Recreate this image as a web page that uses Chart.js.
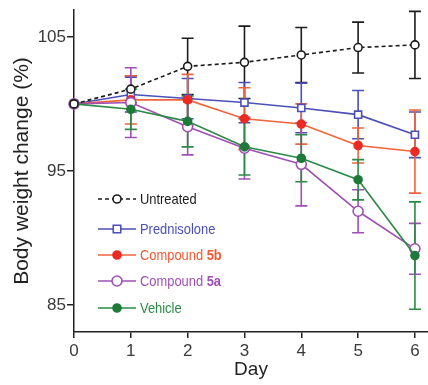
<!DOCTYPE html>
<html>
<head>
<meta charset="utf-8">
<script src="https://cdn.jsdelivr.net/npm/chart.js@4"></script>
<style>
  html, body { margin: 0; padding: 0; background: #fff; }
  #wrap { width: 428px; height: 385px; }
</style>
</head>
<body>
<div id="wrap"><canvas id="myChart" width="428" height="385"></canvas></div>
<script>
// values (mean and error, % body weight)
const days = [0, 1, 2, 3, 4, 5, 6];
const xTicks = [0, 1, 2, 3, 4, 5, 6];
const yTicks = [85, 95, 105];

const seriesNames = ['Untreated', 'Prednisolone', 'Compound 5b', 'Compound 5a', 'Vehicle'];

const untreated = [100, 101.1, 102.8, 103.1, 103.65, 104.2, 104.4];
const untreatedErr = [0, 1.0, 2.1, 2.7, 2.05, 1.9, 2.5];
const prednisolone = [100, 100.7, 100.4, 100.1, 99.7, 99.2, 97.7];
const prednisoloneErr = [0, 1.3, 1.5, 1.5, 1.85, 1.8, 1.7];
const compound5b = [100, 100.3, 100.3, 98.9, 98.5, 96.9, 96.45];
const compound5bErr = [0, 1.8, 1.9, 2.3, 1.5, 1.3, 3.1];
const compound5a = [100, 100.1, 98.3, 96.7, 95.5, 92.0, 89.2];
const compound5aErr = [0, 2.6, 2.1, 2.3, 3.1, 1.6, 1.9];
const vehicle = [100, 99.6, 98.7, 96.8, 95.95, 94.35, 88.7];
const vehicleErr = [0, 1.5, 1.9, 2.1, 1.75, 1.5, 4.0];

const toPoints = (vals) => days.map((d, i) => ({ x: d, y: vals[i] }));

const font = '"Liberation Sans", Arial, Helvetica, sans-serif';
Chart.defaults.font.family = font;
Chart.defaults.color = '#3a3a3a';

const styles = [
  { line: '#1c1c1c', point: '#1c1c1c', fill: '#fff', shape: 'circle', r: 4, dash: [4, 3], text: '#1c1c1c' },
  { line: '#4b4fb8', point: '#4b4fb8', fill: '#fff', shape: 'rect', r: 5, dash: [], text: '#4b4fb8' },
  { line: '#f0643c', point: '#ec2a24', fill: '#ec2a24', shape: 'circle', r: 4, dash: [], text: '#f05a30' },
  { line: '#a050b4', point: '#a050b4', fill: '#fff', shape: 'circle', r: 5, dash: [], text: '#a050b4' },
  { line: '#2b8a45', point: '#1f7a3a', fill: '#1f7a3a', shape: 'circle', r: 4, dash: [], text: '#2b8a45' }
];
const values = [untreated, prednisolone, compound5b, compound5a, vehicle];
const errors = [untreatedErr, prednisoloneErr, compound5bErr, compound5aErr, vehicleErr];

const datasets = seriesNames.map((name, k) => ({
  label: name,
  data: toPoints(values[k]),
  errors: errors[k],
  borderColor: styles[k].line,
  borderWidth: 1.6,
  borderDash: styles[k].dash,
  pointStyle: styles[k].shape,
  pointRadius: styles[k].r,
  pointBorderColor: styles[k].point,
  pointBackgroundColor: styles[k].fill,
  pointBorderWidth: 1.6,
  tension: 0,
  clip: false,
  order: k === 0 ? 0 : 5 - k
}));

// vertical error bars with caps
const errorBars = {
  id: 'errorBars',
  beforeDatasetsDraw(chart) {
    const { ctx, scales: { x, y } } = chart;
    ctx.save();
    chart.data.datasets.forEach((ds, k) => {
      ctx.strokeStyle = styles[k].line;
      ctx.lineWidth = 1.6;
      ctx.setLineDash([]);
      ds.data.forEach((p, i) => {
        const e = ds.errors[i];
        if (!e) return;
        const px = x.getPixelForValue(p.x);
        const top = y.getPixelForValue(p.y + e);
        const bot = y.getPixelForValue(p.y - e);
        ctx.beginPath();
        ctx.moveTo(px, top); ctx.lineTo(px, bot);
        ctx.moveTo(px - 6, top); ctx.lineTo(px + 6, top);
        ctx.moveTo(px - 6, bot); ctx.lineTo(px + 6, bot);
        ctx.stroke();
      });
    });
    ctx.restore();
  }
};

// legend inside the plot, compound ids in bold, text slightly condensed
const insideLegend = {
  id: 'insideLegend',
  afterDraw(chart) {
    const { ctx } = chart;
    const x0 = 98, x1 = 136, tx = 140, squeeze = 0.86;
    const rows = [199, 229, 255, 281, 308];
    ctx.save();
    chart.data.datasets.forEach((ds, k) => {
      const s = styles[k];
      const yy = rows[k];
      const cx = (x0 + x1) / 2;
      ctx.strokeStyle = s.line;
      ctx.lineWidth = 1.6;
      ctx.setLineDash(s.dash);
      ctx.beginPath();
      ctx.moveTo(x0, yy); ctx.lineTo(x1, yy);
      ctx.stroke();
      ctx.setLineDash([]);
      ctx.fillStyle = s.fill;
      ctx.strokeStyle = s.point;
      ctx.beginPath();
      if (s.shape === 'rect') {
        ctx.rect(cx - s.r * 0.75, yy - s.r * 0.75, s.r * 1.5, s.r * 1.5);
      } else {
        ctx.arc(cx, yy, s.r, 0, Math.PI * 2);
      }
      ctx.fill();
      ctx.stroke();

      const words = ds.label.split(' ');
      const last = words[words.length - 1];
      const boldPart = /^\d+[a-z]$/.test(last) ? last : '';
      const plain = boldPart ? ds.label.slice(0, ds.label.length - last.length) : ds.label;
      ctx.save();
      ctx.translate(tx, yy + 1);
      ctx.scale(squeeze, 1);
      ctx.fillStyle = s.text;
      ctx.textBaseline = 'middle';
      ctx.font = '15px ' + font;
      ctx.fillText(plain, 0, 0);
      if (boldPart) {
        const w = ctx.measureText(plain).width;
        ctx.font = 'bold 15px ' + font;
        ctx.fillText(boldPart, w, 0);
      }
      ctx.restore();
    });
    ctx.restore();
  }
};

const ctx = document.getElementById('myChart').getContext('2d');
const myChart = new Chart(ctx, {
  type: 'line',
  data: { datasets: datasets },
  plugins: [errorBars, insideLegend],
  options: {
    responsive: false,
    animation: false,
    layout: { autoPadding: false, padding: { left: 8, top: 10, right: 0, bottom: 0 } },
    plugins: { legend: { display: false }, tooltip: { enabled: false } },
    scales: {
      x: {
        type: 'linear',
        min: 0,
        max: 6.23,
        afterBuildTicks: (scale) => { scale.ticks = xTicks.map(v => ({ value: v })); },
        afterFit: (scale) => { scale.height = 53; scale.paddingRight = 0; scale.paddingLeft = 0; },
        grid: { drawOnChartArea: false, drawTicks: true, tickLength: 6, color: '#222', lineWidth: 1.5 },
        border: { display: true, color: '#222', width: 1.5 },
        ticks: { font: { size: 17 }, color: '#3a3a3a', padding: 3, maxRotation: 0 },
        title: { display: true, text: 'Day', font: { size: 19 }, color: '#222', padding: { top: 9 } }
      },
      y: {
        min: 83,
        max: 107,
        afterBuildTicks: (scale) => { scale.ticks = yTicks.map(v => ({ value: v })); },
        afterFit: (scale) => { scale.width = 66; scale.paddingTop = 0; scale.paddingBottom = 0; },
        grid: { drawOnChartArea: false, drawTicks: true, tickLength: 7, color: '#222', lineWidth: 1.5 },
        border: { display: true, color: '#222', width: 1.5 },
        ticks: { font: { size: 17 }, color: '#3a3a3a', padding: 1 },
        title: { display: true, text: 'Body weight change (%)', font: { size: 21 }, color: '#222', padding: { bottom: 0, top: 2 } }
      }
    }
  }
});
</script>
</body>
</html>
